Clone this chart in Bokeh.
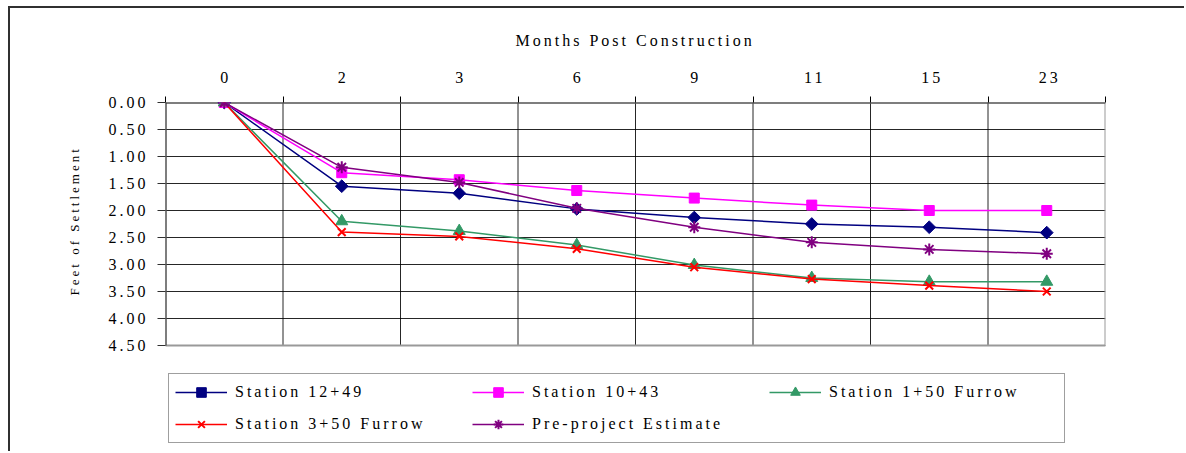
import math
from bokeh.plotting import figure
from bokeh.models import Range1d, FixedTicker, PrintfTickFormatter, Legend, LegendItem, Title
from bokeh.embed import file_html
from bokeh.resources import INLINE

months = ["0", "2", "3", "6", "9", "11", "15", "23"]
station_12_49 = [0.00, 1.55, 1.68, 1.97, 2.13, 2.25, 2.31, 2.41]
station_10_43 = [0.00, 1.30, 1.43, 1.63, 1.77, 1.90, 2.00, 2.00]
station_1_50_furrow = [0.00, 2.20, 2.38, 2.64, 3.01, 3.25, 3.32, 3.32]
station_3_50_furrow = [0.00, 2.40, 2.48, 2.71, 3.05, 3.27, 3.39, 3.50]
pre_project_estimate = [0.00, 1.20, 1.48, 1.96, 2.31, 2.59, 2.72, 2.80]
y_ticks = [0.0, 0.5, 1.0, 1.5, 2.0, 2.5, 3.0, 3.5, 4.0, 4.5]

FONT = "Liberation Serif"
xs = list(range(len(months)))
x_lo, x_hi = -0.5, len(months) - 0.5
y_top, y_bot = y_ticks[0], y_ticks[-1]

# the frame reaches down to the bottom of the page so that the legend
# (drawn inside the frame) is not clipped; the value axis spans 0..4.5 only
p = figure(width=1176, height=445, output_backend="svg", toolbar_location=None,
           x_range=Range1d(x_lo, x_hi), y_range=Range1d(6.5, 0.0),
           x_axis_location="above",
           min_border_left=155, min_border_right=81, min_border_top=94, min_border_bottom=0)
p.margin = (6, 0, 0, 8)
p.styles = {"border-top": "2px solid #303030", "border-left": "2px solid #303030",
            "border-right": "none", "border-bottom": "none", "letter-spacing": "3px"}
p.outline_line_color = None

xa = p.xaxis[0]
xa.ticker = FixedTicker(ticks=xs, minor_ticks=[i - 0.5 for i in range(len(months) + 1)])
xa.major_label_overrides = {i: m for i, m in zip(xs, months)}
xa.major_tick_line_color = None
xa.major_tick_out = 6
xa.minor_tick_in = 0
xa.minor_tick_out = 6
xa.minor_tick_line_color = "black"
xa.major_label_standoff = 14
xa.major_label_text_font = FONT
xa.major_label_text_font_size = "16px"
xa.major_label_text_color = "black"
xa.axis_line_color = None

ya = p.yaxis[0]
ya.ticker = FixedTicker(ticks=y_ticks)
ya.formatter = PrintfTickFormatter(format="%.2f")
ya.bounds = (y_top, y_bot)
ya.major_tick_in = 0
ya.major_tick_out = 8
ya.minor_tick_line_color = None
ya.major_label_standoff = 21
ya.major_label_text_font = FONT
ya.major_label_text_font_size = "16px"
ya.major_label_text_color = "black"
ya.major_tick_line_color = "#303030"
ya.axis_line_color = None

# axis titles as Title annotations anchored at their start point
p.add_layout(Title(text="Months Post Construction", align="left", offset=350,
                   vertical_align="middle", standoff=37,
                   text_font=FONT, text_font_size="16px", text_font_style="normal",
                   text_color="black"), "above")
p.add_layout(Title(text="Feet of Settlement", align="left", offset=158,
                   vertical_align="bottom", standoff=48,
                   text_font=FONT, text_font_size="13px", text_font_style="normal",
                   text_color="black"), "left")

p.xgrid.visible = False
p.ygrid.ticker = FixedTicker(ticks=y_ticks)
p.ygrid.grid_line_color = "black"
p.ygrid.grid_line_alpha = 0.85

# vertical separators between month categories
bx = [i + 0.5 for i in range(len(months) - 1)]
p.segment(x0=bx, y0=[y_top] * len(bx), x1=bx, y1=[y_bot] * len(bx),
          line_color="black", line_alpha=0.85, line_width=1)
# plot area border
p.quad(left=[x_lo], right=[x_hi], top=[y_top], bottom=[y_bot],
       fill_color=None, line_color="#999999", line_width=2)
p.segment(x0=[x_lo, x_lo], y0=[y_top, y_top], x1=[x_lo, x_hi], y1=[y_bot, y_top],
          line_color="#303030", line_width=2)

series = [
    ("Station 12+49", station_12_49, "#000080", "square", 9, math.pi / 4),
    ("Station 10+43", station_10_43, "#FF00FF", "square", 10, 0.0),
    ("Station 1+50 Furrow", station_1_50_furrow, "#339966", "triangle", 12, 0.0),
    ("Station 3+50 Furrow", station_3_50_furrow, "#FF0000", "x", 11, 0.0),
    ("Pre-project Estimate", pre_project_estimate, "#800080", "asterisk", 12, 0.0),
]
items = []
for name, vals, color, marker, size, ang in series:
    r1 = p.line(xs, vals, line_color=color, line_width=1.5)
    if marker in ("x", "asterisk"):
        r2 = p.scatter(xs, vals, marker=marker, size=size, line_color=color, line_width=2)
    else:
        r2 = p.scatter(xs, vals, marker=marker, size=size, angle=ang,
                       fill_color=color, line_color=color)
    items.append(LegendItem(label=name, renderers=[r1, r2]))

legend = Legend(items=items, orientation="horizontal", ncols=3, location=(3, 10))
legend.glyph_width = 52
legend.glyph_height = 24
legend.label_standoff = 8
legend.label_width = 229
legend.label_height = 24
legend.spacing = 8
legend.padding = 6
legend.margin = 0
legend.label_text_font = FONT
legend.label_text_font_size = "16px"
legend.label_text_color = "black"
legend.border_line_color = "#404040"
legend.border_line_width = 1
legend.background_fill_alpha = 1.0
p.add_layout(legend, "center")

open("out.html", "w").write(file_html(p, INLINE))
